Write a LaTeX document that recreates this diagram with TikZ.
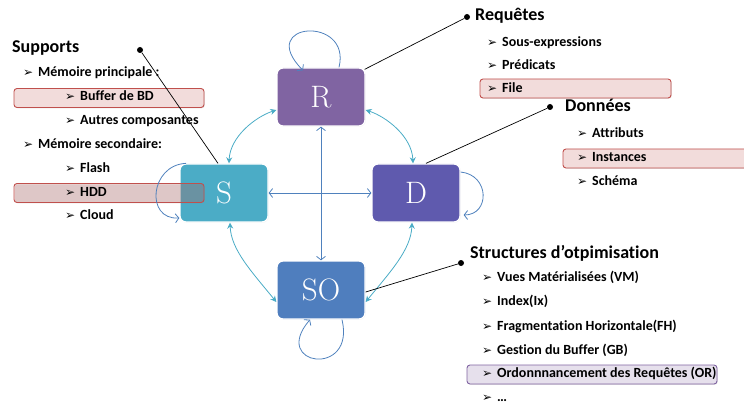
\documentclass[tikz,border=0pt]{standalone}
\usepackage{fontspec}
\setmainfont{Carlito}[Ligatures=NoCommon]
\newfontfamily\lmrfont{Latin Modern Roman}
\newfontfamily\dejavufont{DejaVu Sans}
\usetikzlibrary{arrows.meta,shadows}

\definecolor{rcol}{HTML}{8064A2}
\definecolor{scol}{HTML}{4BACC6}
\definecolor{dcol}{HTML}{5F5AAE}
\definecolor{socol}{HTML}{4F7EBE}
\definecolor{linkcol}{HTML}{4BACC6}
\definecolor{loopcol}{HTML}{4F81BD}
\definecolor{hlred}{HTML}{C0504D}
\definecolor{hlviolet}{HTML}{8064A2}

\begin{document}
\begin{tikzpicture}[x=1pt,y=-1pt,
  state/.style={rounded corners=6pt, minimum width=88pt, minimum height=58pt,
    draw=white, line width=1.3pt, text=white,
    font=\lmrfont\fontsize{31}{32}\selectfont,
    drop shadow={opacity=0.18, shadow xshift=0.6pt, shadow yshift=-0.6pt}},
  hlbox/.style={rounded corners=3pt, line width=0.9pt, minimum height=19pt,
    drop shadow={opacity=0.2, shadow xshift=0.8pt, shadow yshift=-0.8pt}},
  hlpink/.style={hlbox, draw=hlred, fill=hlred!20},
  hlpinkglass/.style={hlbox, draw=hlred, fill=hlred, fill opacity=0.2, draw opacity=1},
  hlpurple/.style={hlbox, draw=hlviolet, fill=hlviolet!20},
  title/.style={anchor=mid west, inner sep=0pt, font=\fontsize{18}{21}\selectfont\bfseries},
  item/.style={anchor=mid west, inner sep=0pt, font=\fontsize{14}{16}\selectfont\bfseries},
  bulletmark/.style={anchor=west, inner sep=0pt, yshift=0.5pt, font=\dejavufont\fontsize{12}{12}\selectfont},
  link/.style={draw=linkcol, line width=0.8pt, {Stealth[length=6pt,width=6pt]}-{Stealth[length=6pt,width=6pt]}},
  cross/.style={draw=loopcol, line width=0.8pt, {Straight Barb[length=3.5pt,width=9pt]}-{Straight Barb[length=3.5pt,width=9pt]}},
  selfloop/.style={draw=loopcol, line width=0.8pt, -{Straight Barb[length=3.5pt,width=9pt]}},
  leader/.style={draw=black, line width=0.7pt},
  dot/.style={circle, fill=black, inner sep=0pt, minimum size=6pt}
]
\useasboundingbox (0,0) rectangle (744,406);

% highlight bars that sit behind the lists
\node[hlpink, minimum width=190pt] (hlbuffer) at (109,98) {};
\node[hlpink, minimum width=191pt] (hlfile) at (575.5,88.5) {};
\node[hlpink, minimum width=188pt] (hlinst) at (657,158.5) {};
\node[hlpurple, minimum width=250pt] (hlordo) at (592,374.5) {};

% the four states
\node[state, fill=rcol] (R) at (321,97) {R};
\node[state, fill=scol] (S) at (224,193) {S};
\node[state, fill=dcol] (D) at (416,193) {D};
\node[state, fill=socol] (SO) at (321,290) {SO};

% translucent bar crossing S
\node[hlpinkglass, minimum width=190pt] (hlhdd) at (109,193) {};

% curved links between neighbours
\draw[link] ([yshift=-13pt]R.west) .. controls (255,117) and (230,137) .. ([xshift=5pt]S.north);
\draw[link] ([yshift=-13pt]R.east) .. controls (387,117) and (412,137) .. ([xshift=-3pt]D.north);
\draw[link] ([xshift=6pt]S.south) .. controls (231,250) and (252,272) .. ([yshift=-12pt]SO.west);
\draw[link] ([xshift=-4pt]D.south) .. controls (411,250) and (390,272) .. ([yshift=-12pt]SO.east);

% straight links across the middle
\draw[cross] (R.south) -- (SO.north);
\draw[cross] (S.east) -- (D.west);

% self loops
\draw[selfloop] ([xshift=18pt]R.north) .. controls (352,15) and (255,22) .. ([xshift=-18pt,yshift=-3pt]R.north);
\draw[selfloop] ([xshift=-38pt]S.north) .. controls (150,165) and (145,220) .. ([yshift=-25pt]S.west);
\draw[selfloop] ([yshift=21pt]D.east) .. controls (490,175) and (490,215) .. ([xshift=3pt,yshift=-22pt]D.east);
\draw[selfloop] ([xshift=21pt]SO.south) .. controls (356,378) and (270,366) .. ([xshift=-11pt]SO.south);

% Supports
\node[title] (tsup) at (12,50) {Supports};
\node[bulletmark] (bs1) at (23,74) {➢};
\node[item] (s1) at (38,74) {Mémoire principale :};
\node[bulletmark] (bs2) at (65,98) {➢};
\node[item] (s2) at (80,98) {Buffer de BD};
\node[bulletmark] (bs3) at (65,122) {➢};
\node[item] (s3) at (80,122) {Autres composantes};
\node[bulletmark] (bs4) at (23,146) {➢};
\node[item] (s4) at (38,146) {Mémoire secondaire:};
\node[bulletmark] (bs5) at (65,170) {➢};
\node[item] (s5) at (80,170) {Flash};
\node[bulletmark] (bs6) at (65,194) {➢};
\node[item] (s6) at (80,194) {HDD};
\node[bulletmark] (bs7) at (65,217) {➢};
\node[item] (s7) at (80,217) {Cloud};
\node[dot] (dsup) at (140,50) {};
\draw[leader] (dsup) -- ([xshift=-6pt]S.north);

% Requêtes
\node[title] (treq) at (475,18) {Requêtes};
\node[bulletmark] (br1) at (487,44) {➢};
\node[item] (r1) at (502,44) {Sous-expressions};
\node[bulletmark] (br2) at (487,67) {➢};
\node[item] (r2) at (502,67) {Prédicats};
\node[bulletmark] (br3) at (487,90) {➢};
\node[item] (r3) at (502,90) {File};
\node[dot] (dreq) at (467,17) {};
\draw[leader] (dreq) -- ([xshift=-1pt,yshift=-2pt]R.north east);

% Données
\node[title] (tdon) at (565,109) {Données};
\node[bulletmark] (bd1) at (577,135) {➢};
\node[item] (d1) at (592,135) {Attributs};
\node[bulletmark] (bd2) at (577,159) {➢};
\node[item] (d2) at (592,159) {Instances};
\node[bulletmark] (bd3) at (577,183) {➢};
\node[item] (d3) at (592,183) {Schéma};
\node[dot] (ddon) at (550,107) {};
\draw[leader] (ddon) -- ([xshift=10pt]D.north);

% Structures d'optimisation
\node[title] (tstr) at (470,256) {Structures d’otpimisation};
\node[bulletmark] (bo1) at (482,279) {➢};
\node[item] (o1) at (497,279) {Vues Matérialisées (VM)};
\node[bulletmark] (bo2) at (482,303) {➢};
\node[item] (o2) at (497,303) {Index(Ix)};
\node[bulletmark] (bo3) at (482,328) {➢};
\node[item] (o3) at (497,328) {Fragmentation Horizontale(FH)};
\node[bulletmark] (bo4) at (482,352) {➢};
\node[item] (o4) at (497,352) {Gestion du Buffer (GB)};
\node[bulletmark] (bo5) at (482,375) {➢};
\node[item] (o5) at (497,375) {Ordonnnancement des Requêtes (OR)};
\node[bulletmark] (bo6) at (482,399) {➢};
\node[item] (o6) at (497,399) {…};
\node[dot] (dstr) at (461,263) {};
\draw[leader] (dstr) -- ([yshift=-2pt]SO.east);
\end{tikzpicture}
\end{document}
